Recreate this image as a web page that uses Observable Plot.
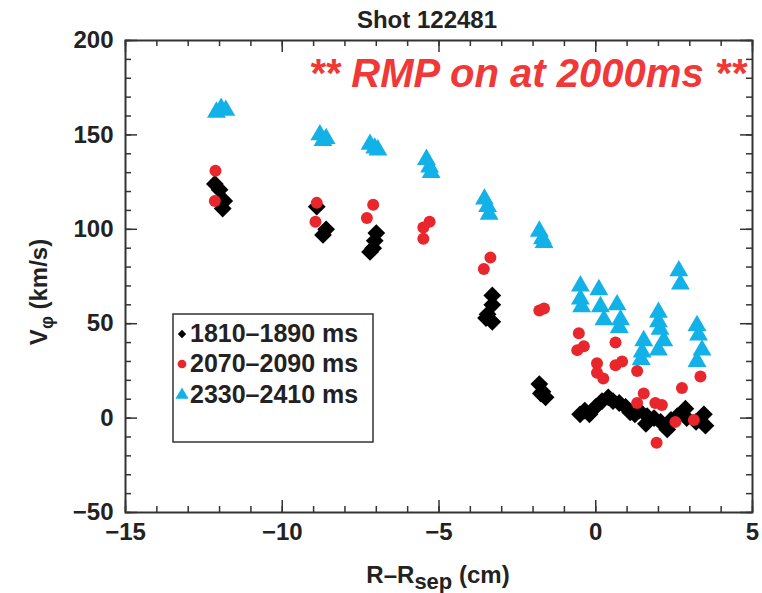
<!DOCTYPE html>
<html>
<head>
<meta charset="utf-8">
<script src="https://cdn.jsdelivr.net/npm/d3@7"></script>
<script src="https://cdn.jsdelivr.net/npm/@observablehq/plot@0.6"></script>
<style>
  html, body { margin: 0; padding: 0; background: #fff; }
</style>
</head>
<body>
<div id="chart"></div>
<script>
// ---- data ----
const seriesNames = ["1810–1890 ms", "2070–2090 ms", "2330–2410 ms"];

const diamondX = [-12.15, -12.0, -11.85, -11.9,
  -8.9, -8.6, -8.7,
  -7.0, -7.05, -7.2, -7.1,
  -3.3, -3.3, -3.45, -3.3, -3.5,
  -1.8, -1.7, -1.6, -1.75,
  -0.5, -0.35, -0.2, 0.0, 0.2, 0.4, 0.55, 0.75, 0.95, 1.1, 1.25, 1.38, 1.6, 1.64, 1.86, 2.07, 2.28, 2.4, 2.6, 2.86, 2.9, 3.2, 3.45, 3.5];
const diamondY = [124, 121, 115, 111,
  112, 100, 97,
  98, 94, 88, 90,
  65, 60, 55, 51, 53,
  18, 14, 11, 13,
  2, 4, 2, 6, 9, 11, 9, 8, 6, 3, 2, 4, -3, 1, 0, -2, -6, -1, 1, 5, 0, -2, 2, -4];

const circleX = [-12.13, -12.15,
  -8.9, -8.94,
  -7.1, -7.3,
  -5.3, -5.5, -5.5,
  -3.36, -3.57,
  -1.8, -1.65,
  -0.54, -0.38, -0.59, 0.04, 0.04, 0.24, 0.63, 0.63, 0.84, 1.32, 1.53, 1.32, 1.9, 2.11, 1.94, 2.54, 2.75, 3.13, 3.34];
const circleY = [131, 115,
  114, 104,
  113, 106,
  104, 101, 95,
  85, 79,
  57, 58,
  45, 38, 36, 29, 24, 21, 40, 28, 30, 25, 13, 8, 8, 7, -13, -2, 16, -1, 22];

const triangleX = [-12.1, -11.95, -11.8,
  -8.8, -8.7, -8.6,
  -7.2, -7.05, -6.95,
  -5.4, -5.3, -5.25,
  -3.55, -3.45, -3.4,
  -1.8, -1.7, -1.65,
  -0.49, -0.49, -0.45, 0.1, 0.15, 0.26, 0.68, 0.79, 0.75, 1.53, 1.48, 1.45, 2.0, 2.0, 2.05, 2.17, 2.0, 2.65, 2.7, 3.23, 3.28, 3.39, 3.23];
const triangleY = [162, 164, 163,
  150, 147, 148,
  145, 143, 142,
  137, 133, 130,
  116, 112, 108,
  99, 95, 93,
  70, 63, 59, 68, 59, 52, 60, 52, 48, 41, 35, 31, 56, 51, 47, 41, 36, 78, 71, 49, 44, 36, 30];

const xMajor = [-15, -10, -5, 0, 5];
const xMinor = d3.range(-15, 5.5, 1);
const yMajor = [-50, 0, 50, 100, 150, 200];
const yMinor = d3.range(-50, 201, 10);

const titleText = "Shot 122481";
const noteText = "** RMP on at 2000ms **";

// ---- build tables ----
const diamonds = diamondX.map((x, i) => ({x, y: diamondY[i]}));
const circles = circleX.map((x, i) => ({x, y: circleY[i]}));
const triangles = triangleX.map((x, i) => ({x, y: triangleY[i]}));

const W = 762, H = 593;
const mL = 125, mR = 10, mT = 40, mB = 81;
const pw = W - mL - mR, ph = H - mT - mB;
const tickCol = "#333";
const textCol = "#222";
const fontFam = '"Liberation Sans", Arial, Helvetica, sans-serif';

const chart = Plot.plot({
  width: W, height: H,
  marginLeft: mL, marginRight: mR, marginTop: mT, marginBottom: mB,
  style: {fontFamily: fontFam, fontSize: "24px", fontWeight: "bold", color: textCol, background: "#fff"},
  x: {domain: [-15, 5]},
  y: {domain: [-50, 200]},
  marks: [
    // inward ticks on all four sides
    Plot.ruleX(xMajor, {x: d => d, insetTop: ph - 12, stroke: tickCol, strokeWidth: 1.5}),
    Plot.ruleX(xMajor, {x: d => d, insetBottom: ph - 12, stroke: tickCol, strokeWidth: 1.5}),
    Plot.ruleX(xMinor, {x: d => d, insetTop: ph - 6, stroke: tickCol, strokeWidth: 1.5}),
    Plot.ruleX(xMinor, {x: d => d, insetBottom: ph - 6, stroke: tickCol, strokeWidth: 1.5}),
    Plot.ruleY(yMajor, {y: d => d, insetRight: pw - 12, stroke: tickCol, strokeWidth: 1.5}),
    Plot.ruleY(yMajor, {y: d => d, insetLeft: pw - 12, stroke: tickCol, strokeWidth: 1.5}),
    Plot.ruleY(yMinor, {y: d => d, insetRight: pw - 6, stroke: tickCol, strokeWidth: 1.5}),
    Plot.ruleY(yMinor, {y: d => d, insetLeft: pw - 6, stroke: tickCol, strokeWidth: 1.5}),
    Plot.axisX({ticks: xMajor, tickSize: 0, tickPadding: 10, label: null, fill: textCol, fontSize: 24}),
    Plot.axisY({ticks: yMajor, tickSize: 0, tickPadding: 12, label: null, fill: textCol, fontSize: 24}),
    Plot.frame({stroke: tickCol, strokeWidth: 2}),
    Plot.dot(diamonds, {x: "x", y: "y", symbol: "diamond2", r: 8, fill: "#000"}),
    Plot.dot(triangles, {x: "x", y: "y", symbol: "triangle", r: 7, fill: "#12b2e8"}),
    Plot.dot(circles, {x: "x", y: "y", symbol: "circle", r: 6, fill: "#e8262b"})
  ]
});

document.getElementById("chart").appendChild(chart);

// ---- annotations ----
const svg = d3.select(chart);

svg.append("text")
  .attr("x", 427).attr("y", 28)
  .attr("text-anchor", "middle")
  .attr("font-family", fontFam).attr("font-size", 24).attr("font-weight", "bold")
  .attr("fill", textCol)
  .text(titleText);

svg.append("text")
  .attr("x", 309).attr("y", 87)
  .attr("text-anchor", "start")
  .attr("font-family", '"Liberation Sans", Arial, sans-serif')
  .attr("font-size", 40).attr("font-weight", "bold").attr("font-style", "italic")
  .attr("textLength", 437).attr("lengthAdjust", "spacingAndGlyphs")
  .attr("fill", "#f03838")
  .text(noteText);

// x axis title
const xt = svg.append("text")
  .attr("x", 438).attr("y", 583)
  .attr("text-anchor", "middle")
  .attr("font-family", fontFam).attr("font-size", 24).attr("font-weight", "bold")
  .attr("fill", textCol);
xt.append("tspan").text("R–R");
xt.append("tspan").attr("font-size", 22).attr("dy", 6).text("sep");
xt.append("tspan").attr("dy", -6).text(" (cm)");

// y axis title
const yt = svg.append("text")
  .attr("transform", "translate(47,292) rotate(-90)")
  .attr("text-anchor", "middle")
  .attr("font-family", fontFam).attr("font-size", 24).attr("font-weight", "bold")
  .attr("fill", textCol);
yt.append("tspan").text("V");
yt.append("tspan").attr("font-size", 18).attr("dy", 6).text("φ");
yt.append("tspan").attr("dy", -6).text(" (km/s)");

// legend
const lg = svg.append("g");
lg.append("rect")
  .attr("x", 173).attr("y", 314).attr("width", 200).attr("height", 128)
  .attr("fill", "#fff").attr("stroke", tickCol).attr("stroke-width", 1.5);
const legendItems = [
  {name: seriesNames[0], sym: d3.symbolDiamond2, size: 45, color: "#000", by: 342},
  {name: seriesNames[1], sym: d3.symbolCircle, size: 60, color: "#e8262b", by: 372},
  {name: seriesNames[2], sym: d3.symbolTriangle, size: 75, color: "#12b2e8", by: 403}
];
for (const it of legendItems) {
  lg.append("path")
    .attr("d", d3.symbol(it.sym, it.size)())
    .attr("transform", `translate(182,${it.by - 8})`)
    .attr("fill", it.color);
  lg.append("text")
    .attr("x", 190).attr("y", it.by)
    .attr("text-anchor", "start")
    .attr("font-family", fontFam).attr("font-size", 25).attr("font-weight", "bold")
    .attr("fill", textCol)
    .text(it.name);
}
</script>
</body>
</html>
